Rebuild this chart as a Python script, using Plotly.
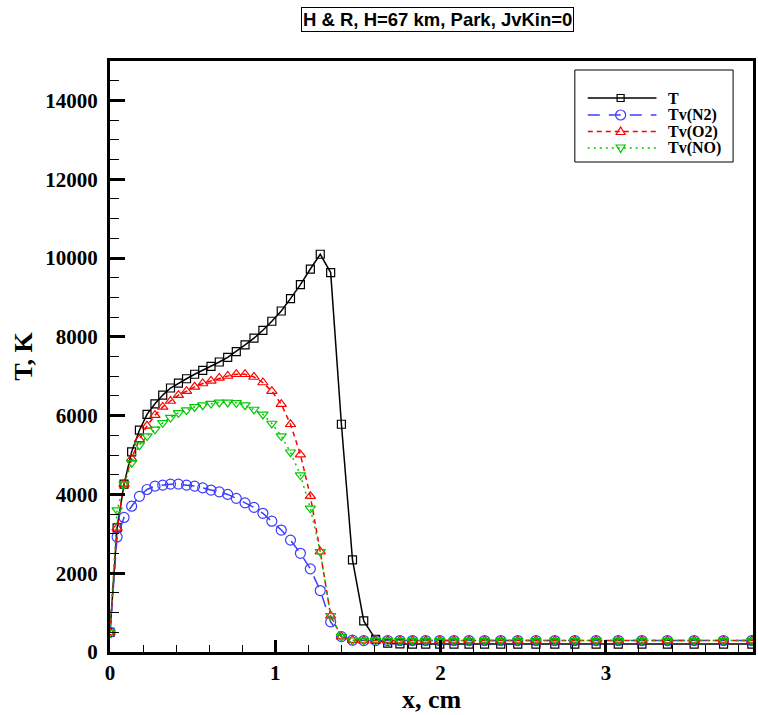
import plotly.graph_objects as go

# ---------------- data ----------------
x_cm = [0.000, 0.043, 0.085, 0.131, 0.178, 0.224, 0.272, 0.319, 0.366, 0.414,
        0.463, 0.512, 0.561, 0.611, 0.661, 0.712, 0.764, 0.817, 0.871, 0.925,
        0.979, 1.036, 1.092, 1.152, 1.212, 1.272, 1.335, 1.400, 1.467, 1.535,
        1.607, 1.680, 1.754, 1.830, 1.910, 1.995, 2.081, 2.172, 2.266, 2.364,
        2.467, 2.577, 2.691, 2.812, 2.941, 3.075, 3.218, 3.372, 3.534, 3.712,
        3.883, 4.070]

T = [500, 3150, 4260, 5080, 5630, 6030, 6300, 6520, 6700, 6825,
     6935, 7050, 7150, 7250, 7360, 7480, 7625, 7795, 7965, 8165,
     8395, 8655, 8970, 9325, 9720, 10095, 9630, 5780, 2340, 790,
     320, 225, 205, 200, 200, 200, 200, 200, 200, 200,
     200, 200, 200, 200, 200, 200, 200, 200, 200, 200,
     200, 200]

Tv_N2 = [500, 2920, 3415, 3700, 3950, 4125, 4210, 4235, 4260, 4260,
         4235, 4210, 4165, 4110, 4065, 4000, 3900, 3785, 3670, 3520,
         3320, 3095, 2840, 2505, 2110, 1560, 765, 390, 300, 290,
         290, 290, 290, 290, 290, 290, 290, 290, 290, 290,
         290, 290, 290, 290, 290, 290, 290, 290, 290, 290,
         290, 290]

Tv_O2 = [500, 3150, 4260, 4910, 5395, 5740, 6010, 6220, 6370, 6520,
         6620, 6730, 6815, 6880, 6955, 7005, 7050, 7050, 6980, 6840,
         6620, 6290, 5780, 5010, 3955, 2545, 920, 390, 300, 290,
         290, 290, 290, 290, 290, 290, 290, 290, 290, 290,
         290, 290, 290, 290, 290, 290, 290, 290, 290, 290,
         290, 290]

Tv_NO = [500, 3600, 4260, 4800, 5250, 5480, 5650, 5815, 5950, 6070,
         6140, 6220, 6265, 6305, 6335, 6335, 6325, 6265, 6155, 6030,
         5800, 5480, 5070, 4490, 3645, 2545, 920, 390, 300, 290,
         290, 290, 290, 290, 290, 290, 290, 290, 290, 290,
         290, 290, 290, 290, 290, 290, 290, 290, 290, 290,
         290, 290]

series_names = ["T", "Tv(N2)", "Tv(O2)", "Tv(NO)"]
series_values = [T, Tv_N2, Tv_O2, Tv_NO]
title_text = "H & R, H=67 km, Park, JvKin=0"
x_title = "x, cm"
y_title = "T, K"

# ---------------- styles ----------------
W, H = 758, 715
ML, MR, MT, MB = 110, 2, 61, 63
PW, PH = W - ML - MR, H - MT - MB

colors = ["#000000", "#3c3cff", "#ff0000", "#00c800"]
dashes = ["solid", "12px,9px", "5px,4px", "2px,4px"]
symbols = ["square-open", "circle-open", "triangle-up-open", "triangle-down-open"]
msizes = [8, 10, 9, 9]
SERIF = "Liberation Serif, Times New Roman, serif"
SANS = "Liberation Sans, Arial, sans-serif"


def px_x(px):
    return (px - ML) / PW


def px_y(py):
    return (H - MB - py) / PH


fig = go.Figure()
for name, vals, c, d, s, ms in zip(series_names, series_values, colors, dashes, symbols, msizes):
    fig.add_trace(go.Scatter(
        x=x_cm, y=vals, name=name, mode="lines+markers", showlegend=False,
        line=dict(color=c, width=1.5, dash=d),
        marker=dict(symbol=s, size=ms, color=c, line=dict(color=c, width=1.2)),
    ))

axis_common = dict(
    ticks="inside", tickwidth=3, tickcolor="black",
    showline=True, linewidth=3, linecolor="black", mirror=True,
    showgrid=False, zeroline=False, tickformat="d",
    tickfont=dict(family=SERIF, size=21, color="black", weight="bold"),
)

fig.update_xaxes(
    range=[0, 3.89], tick0=0, dtick=1, ticklen=12,
    minor=dict(ticks="inside", ticklen=7, tickwidth=1, tickcolor="black", dtick=0.2),
    title=dict(text=x_title, font=dict(family=SERIF, size=26, color="black", weight="bold"), standoff=5),
    **axis_common,
)
fig.update_yaxes(
    range=[0, 15000], tick0=0, dtick=2000, ticklen=15, ticklabelstandoff=5,
    minor=dict(ticks="inside", ticklen=9, tickwidth=1, tickcolor="black", dtick=500),
    title=dict(text=y_title, font=dict(family=SERIF, size=26, color="black", weight="bold"), standoff=6),
    **axis_common,
)

shapes = []
annotations = []

# title box
annotations.append(dict(
    text=title_text, xref="paper", yref="paper", x=px_x(439), y=px_y(19.5),
    xanchor="center", yanchor="middle", showarrow=False,
    font=dict(family=SANS, size=18.5, color="black", weight="bold"),
    bordercolor="black", borderwidth=1, borderpad=1, bgcolor="white",
))

# legend (drawn as layout decoration)
LX0, LX1, LY0, LY1 = 577, 736, 70, 162
shapes.append(dict(type="rect", xref="paper", yref="paper",
                   x0=px_x(LX0), x1=px_x(LX1), y0=px_y(LY0), y1=px_y(LY1),
                   line=dict(color="black", width=1), fillcolor="white", layer="above"))
row_y = [98, 115, 131.5, 148]
marker_paths = {
    "square-open": "M-3.5,-3.5 L3.5,-3.5 L3.5,3.5 L-3.5,3.5 Z",
    "circle-open": None,
    "triangle-up-open": "M-4.5,-3 L4.5,-3 L0,4.5 Z",
    "triangle-down-open": "M-4.5,3 L4.5,3 L0,-4.5 Z",
}
for name, c, d, s, ry in zip(series_names, colors, dashes, symbols, row_y):
    shapes.append(dict(type="line", xref="paper", yref="paper",
                       x0=px_x(590), x1=px_x(659), y0=px_y(ry), y1=px_y(ry),
                       line=dict(color=c, width=1.5, dash=d), layer="above"))
    if s == "circle-open":
        shapes.append(dict(type="circle", xref="paper", yref="paper",
                           xsizemode="pixel", ysizemode="pixel",
                           xanchor=px_x(623), yanchor=px_y(ry),
                           x0=-5, x1=5, y0=-5, y1=5,
                           line=dict(color=c, width=1.2), fillcolor="rgba(0,0,0,0)", layer="above"))
    else:
        shapes.append(dict(type="path", xref="paper", yref="paper",
                           xsizemode="pixel", ysizemode="pixel",
                           xanchor=px_x(623), yanchor=px_y(ry),
                           path=marker_paths[s],
                           line=dict(color=c, width=1.2), fillcolor="rgba(0,0,0,0)", layer="above"))
    annotations.append(dict(
        text=name, xref="paper", yref="paper", x=px_x(669), y=px_y(ry),
        xanchor="left", yanchor="middle", showarrow=False,
        font=dict(family=SERIF, size=16, color="black", weight="bold"),
    ))

fig.update_layout(
    width=W, height=H,
    margin=dict(l=ML, r=MR, t=MT, b=MB, pad=0),
    paper_bgcolor="white", plot_bgcolor="white",
    shapes=shapes, annotations=annotations,
    showlegend=False,
)

fig.write_html("out.html")
